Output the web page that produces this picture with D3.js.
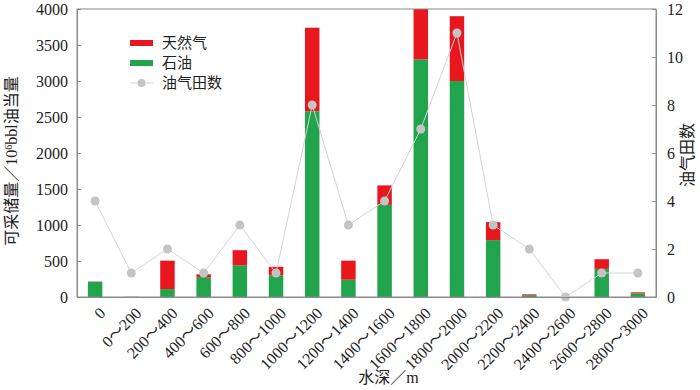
<!DOCTYPE html>
<html>
<head>
<meta charset="utf-8">
<script src="https://cdn.jsdelivr.net/npm/d3@7"></script>
<style>
  body { margin: 0; background: #fff; }
</style>
</head>
<body>
<div id="chart"></div>
<script>
// water depth bins
const depths = ['0', '0～200', '200～400', '400～600', '600～800', '800～1000', '1000～1200',
  '1200～1400', '1400～1600', '1600～1800', '1800～2000', '2000～2200', '2200～2400',
  '2400～2600', '2600～2800', '2800～3000'];
// recoverable reserves, 10^6 bbl oil equivalent
const oil = [210, 0, 110, 275, 440, 300, 2580, 240, 1280, 3300, 3000, 790, 25, 0, 390, 50];
const gas = [5, 3, 395, 40, 210, 120, 1160, 265, 270, 700, 900, 250, 12, 0, 135, 15];
// number of fields
const fieldCount = [4, 1, 2, 1, 3, 1, 8, 3, 4, 7, 11, 3, 2, 0, 1, 1];

const leftTicks = d3.range(0, 4001, 500);
const rightTicks = d3.range(0, 13, 2);

const red = '#e8171d', green = '#21a44b', grey = '#c4c4c4';
const font = '"Liberation Serif", "Times New Roman", "Noto Sans CJK SC", serif';

const margin = { top: 9, right: 44, bottom: 93, left: 77 };
const width = 700 - margin.left - margin.right;
const height = 390 - margin.top - margin.bottom;

const svg = d3.select('#chart').append('svg')
  .attr('width', 700).attr('height', 390)
  .append('g')
  .attr('transform', 'translate(' + margin.left + ',' + margin.top + ')');

const x = d3.scaleBand().domain(depths).range([0, width]).paddingInner(0.6).paddingOuter(0.3);
const y = d3.scaleLinear().domain([0, 4000]).range([height, 0]);
const y2 = d3.scaleLinear().domain([0, 12]).range([height, 0]);

const rows = depths.map((d, i) => ({ depth: d, oil: oil[i], gas: gas[i], n: fieldCount[i] }));
const series = d3.stack().keys(['oil', 'gas'])(rows);
const colors = { oil: green, gas: red };

svg.selectAll('g.layer')
  .data(series)
  .enter().append('g')
  .attr('fill', (s) => colors[s.key])
  .selectAll('rect')
  .data((s) => s)
  .enter().append('rect')
  .attr('x', (d) => x(d.data.depth))
  .attr('width', x.bandwidth())
  .attr('y', (d) => y(d[1]))
  .attr('height', (d) => y(d[0]) - y(d[1]));

// frame
svg.append('rect')
  .attr('width', width).attr('height', height)
  .attr('fill', 'none').attr('stroke', '#8a8a8a').attr('stroke-width', 1);

const line = d3.line()
  .x((d) => x(d.depth) + x.bandwidth() / 2)
  .y((d) => y2(d.n));

svg.append('path')
  .datum(rows)
  .attr('fill', 'none')
  .attr('stroke', '#d4d4d4')
  .attr('stroke-width', 1)
  .attr('d', line);

svg.selectAll('circle.pt')
  .data(rows)
  .enter().append('circle')
  .attr('class', 'pt')
  .attr('cx', (d) => x(d.depth) + x.bandwidth() / 2)
  .attr('cy', (d) => y2(d.n))
  .attr('r', 4.5)
  .attr('fill', grey);

// axes
const yAxis = svg.append('g')
  .call(d3.axisLeft(y).tickValues(leftTicks).tickFormat(d3.format('d'))
    .tickSizeInner(-4).tickSizeOuter(0).tickPadding(9));
const y2Axis = svg.append('g')
  .attr('transform', 'translate(' + width + ',0)')
  .call(d3.axisRight(y2).tickValues(rightTicks).tickFormat(d3.format('d'))
    .tickSizeInner(-4).tickSizeOuter(0).tickPadding(11));
const xAxis = svg.append('g')
  .attr('transform', 'translate(0,' + height + ')')
  .call(d3.axisBottom(x).tickSize(0).tickPadding(6));

[yAxis, y2Axis, xAxis].forEach((a) => {
  a.attr('font-family', null).attr('font-size', null);
  a.select('.domain').attr('stroke', '#8a8a8a');
  a.selectAll('.tick line').attr('stroke', '#8a8a8a');
  a.selectAll('text').style('font-family', font).style('font-size', '16px').attr('fill', '#222');
});

xAxis.selectAll('text')
  .attr('text-anchor', 'end')
  .attr('dy', '0.35em')
  .attr('transform', 'translate(3,9) rotate(-45)');

// axis titles
svg.append('text')
  .attr('transform', 'translate(' + (-60) + ',' + (height / 2 + 8) + ') rotate(-90)')
  .attr('text-anchor', 'middle')
  .style('font-family', font)
  .style('font-size', '16px')
  .attr('fill', '#222')
  .html('可采储量／10<tspan baseline-shift="super" font-size="10px">6</tspan>bbl油当量');

svg.append('text')
  .attr('transform', 'translate(' + (width + 37) + ',' + (height / 2 + 2) + ') rotate(-90)')
  .attr('text-anchor', 'middle')
  .style('font-family', font)
  .style('font-size', '16px')
  .attr('fill', '#222')
  .text('油气田数');

svg.append('text')
  .attr('x', width / 2 + 22)
  .attr('y', height + 86)
  .attr('text-anchor', 'middle')
  .style('font-family', font)
  .style('font-size', '16px')
  .attr('fill', '#222')
  .text('水深／m');

// legend
const legend = svg.append('g').attr('transform', 'translate(53,34)');
const legendItems = [
  { label: '天然气', type: 'bar', color: red },
  { label: '石油', type: 'bar', color: green },
  { label: '油气田数', type: 'pt', color: grey }
];
legendItems.forEach((it, i) => {
  const g = legend.append('g').attr('transform', 'translate(0,' + i * 20 + ')');
  if (it.type === 'bar') {
    g.append('rect').attr('x', 0).attr('y', -3).attr('width', 23).attr('height', 6).attr('fill', it.color);
  } else {
    g.append('line').attr('x1', 0).attr('x2', 23).attr('stroke', '#d4d4d4');
    g.append('circle').attr('cx', 11.5).attr('r', 4).attr('fill', it.color);
  }
  g.append('text').attr('x', 32).attr('dy', '0.35em')
    .style('font-family', font).style('font-size', '15px').attr('fill', '#222')
    .text(it.label);
});
</script>
</body>
</html>
